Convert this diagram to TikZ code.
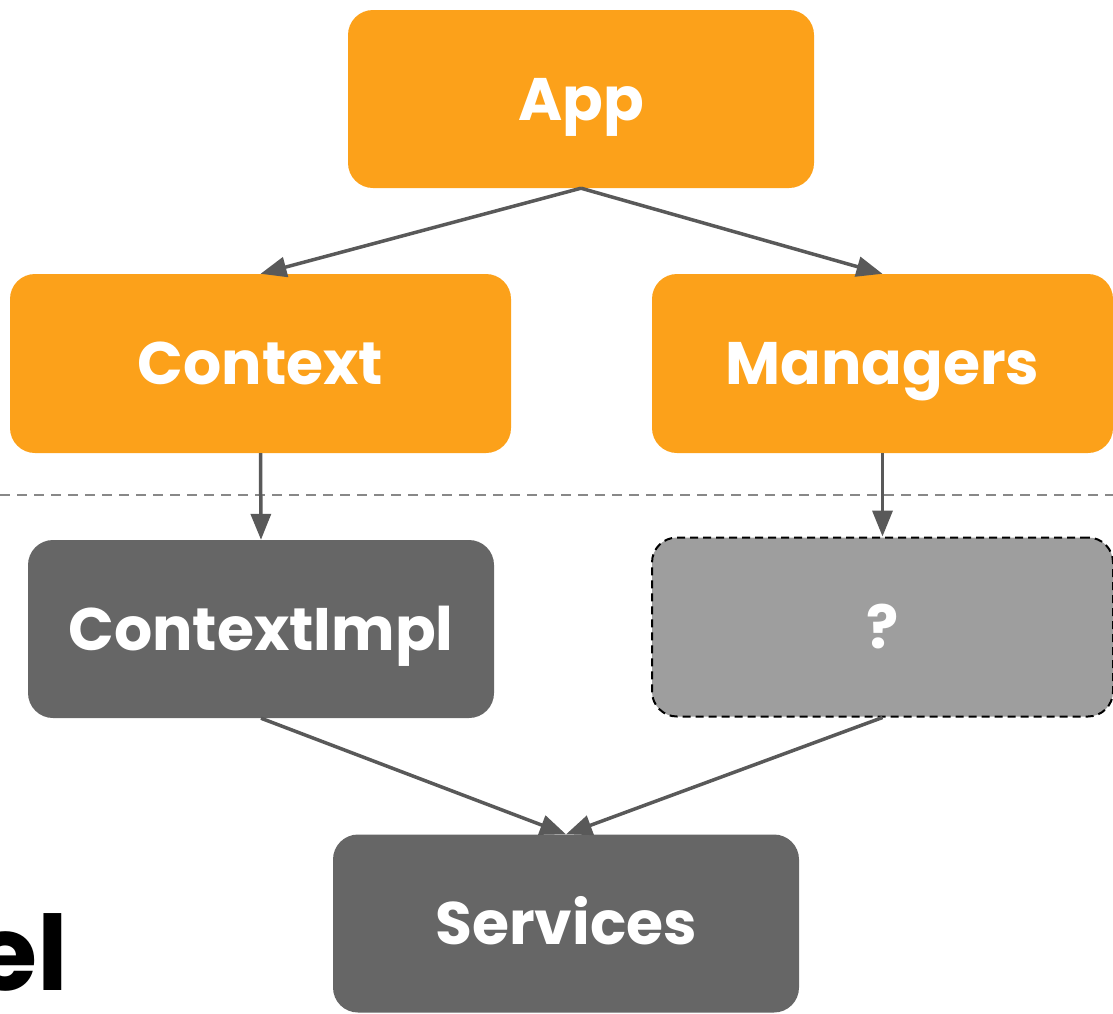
\documentclass[tikz,border=0pt]{standalone}
\usepackage{fontspec}
\setmainfont{Poppins}
\usetikzlibrary{arrows.meta}
\definecolor{orng}{HTML}{FCA11A}
\definecolor{dgray}{HTML}{666666}
\definecolor{lgray}{HTML}{9E9E9E}
\definecolor{arr}{HTML}{595959}
\definecolor{sep}{HTML}{888888}
\begin{document}
\begin{tikzpicture}[x=1pt,y=-1pt,
  box/.style={rounded corners=25pt, inner sep=0pt, text=white,
    font=\fontsize{60}{60}\selectfont\bfseries, text height=42pt, text depth=0pt,
    minimum width=466pt, minimum height=178pt},
  orangebox/.style={box, fill=orng},
  darkbox/.style={box, fill=dgray},
  unknownbox/.style={box, fill=lgray, draw=black, line width=2pt, dash pattern=on 8pt off 5pt},
  link/.style={draw=arr, line width=3.5pt, -{Triangle[length=26pt,width=20pt]}}
]
\useasboundingbox (0,0) rectangle (1113,1013);
\begin{scope}
\clip (0,0) rectangle (1113,1013);
\draw[sep, line width=2pt, dash pattern=on 10pt off 7pt] (0,495) -- (1113,495);
\node[orangebox] (app) at (581,99) {App};
\node[orangebox, minimum width=501pt, minimum height=179pt] (context) at (260.5,363.5) {Context};
\node[orangebox, minimum width=461pt, minimum height=179pt] (managers) at (882.5,363.5) {Managers};
\node[darkbox] (impl) at (261,629) {ContextImpl};
\node[unknownbox, minimum width=461pt, minimum height=179pt] (unknown) at (882.5,627) {?};
\node[darkbox] (services) at (566,923.5) {Services};
\node[anchor=base east, inner sep=0pt, font=\fontsize{104}{104}\selectfont\bfseries] (title) at (68,990) {el};
\draw[link] (app.south) -- (context.north);
\draw[link] (app.south) -- (managers.north);
\draw[link] (context.south) -- (impl.north);
\draw[link] (managers.south) -- (unknown.north);
\draw[link] (impl.south) -- (services.north);
\draw[link] (unknown.south) -- (services.north);
\end{scope}
\end{tikzpicture}
\end{document}
